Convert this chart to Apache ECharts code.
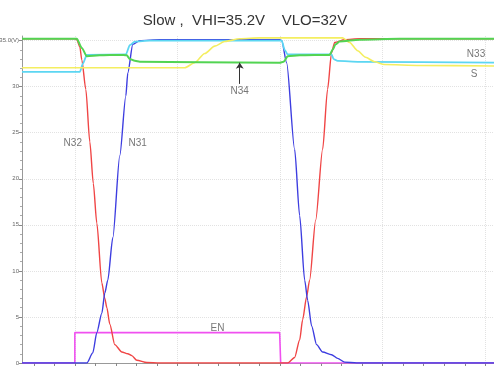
<!DOCTYPE html>
<html><head><meta charset="utf-8">
<script src="https://cdn.jsdelivr.net/npm/echarts@6/dist/echarts.min.js"></script>
<style>html,body{margin:0;padding:0;background:#fff}#c{width:494px;height:371px}</style>
</head><body><div id="c"></div>
<script>
// time axis (arbitrary units, major grid every 10), voltage in V
const xMajorTicks = [10, 20, 30, 40, 50];
const xMinorTicks = [6, 8, 12, 14, 16, 18, 22, 24, 26, 28, 32, 34, 36, 38, 42, 44, 46, 48];
const yTicks = [0, 5, 10, 15, 20, 25, 30, 35];

const enData = [[4.85,0],[10.0,0],[10.0,3.3],[29.96,3.3],[30.06,0],[50.85,0]];
const n32Data = [[4.85,35.2],[10.0,35.2],[10.19,35.1],[10.49,34.3],[10.68,32.9],[11.07,29.7],[11.46,24.0],[11.8,19.5],[12.14,15.2],[12.63,8.7],[12.92,7.0],[13.12,6.0],[13.41,4.2],[13.89,2.0],[14.58,1.2],[15.16,1.0],[15.55,0.8],[16.04,0.3],[17.01,0.05],[18.28,0],[30.74,0],[31.42,0.6],[31.91,2.5],[32.20,4.7],[32.59,7.2],[32.88,9.0],[33.47,15.5],[34.15,23.2],[34.63,29.7],[35.02,33.7],[35.32,34.8],[36.29,35.1],[37.75,35.2],[50.85,35.2]];
const n31Data = [[4.85,0],[11.17,0],[11.75,1.1],[12.14,3.3],[12.63,5.4],[12.92,7.6],[13.21,9.0],[13.70,13.6],[14.38,22.5],[14.97,29.0],[15.16,31.5],[15.65,34.6],[16.33,35.0],[18.28,35.1],[29.96,35.1],[30.16,35.0],[30.64,32.6],[31.42,23.2],[31.91,16.0],[32.40,9.0],[32.69,6.8],[33.08,4.0],[33.56,2.0],[34.15,1.2],[35.02,0.9],[35.61,0.5],[36.29,0.1],[37.46,0],[50.85,0]];
const sData = [[4.85,32.05],[20.71,32.05],[21.68,32.6],[22.66,33.6],[23.63,34.4],[24.61,34.9],[26.07,35.2],[28.01,35.3],[36.10,35.3],[36.78,34.8],[37.56,33.9],[38.33,33.2],[39.21,32.7],[40.18,32.4],[43.59,32.3],[50.85,32.25]];
const n33Data = [[4.85,31.6],[10.49,31.6],[10.78,32.5],[11.17,33.45],[14.97,33.5],[15.36,34.5],[15.84,34.9],[17.30,35.0],[30.16,35.0],[30.45,34.0],[30.74,33.5],[35.02,33.5],[35.22,33.0],[35.61,32.8],[37.75,32.7],[50.85,32.6]];
const n34Data = [[4.85,35.2],[10.19,35.2],[10.68,34.2],[11.17,33.3],[12.43,33.4],[14.38,33.45],[15.06,33.4],[15.36,33.0],[15.84,32.8],[16.33,32.7],[22.17,32.65],[29.96,32.6],[30.35,32.7],[30.74,33.3],[31.91,33.4],[34.83,33.45],[35.12,34.0],[35.41,34.6],[35.80,34.9],[37.75,35.1],[41.65,35.2],[50.85,35.2]];

const labelNames = ['N32', 'N31', 'N34', 'EN', 'N33', 'S'];
const labelX = [9.8, 16.13, 26.07, 23.9, 49.1, 48.9];
const labelY = [23.9, 23.9, 29.5, 3.8, 33.5, 31.4];
const arrowX = 26.07, arrowFrom = 30.3, arrowTo = 32.6;

const chart = echarts.init(document.getElementById('c'), null, {renderer: 'canvas'});
const lineBase = {type: 'line', showSymbol: false, symbol: 'none', animation: false, smooth: 0.25, smoothMonotone: 'x'};
chart.setOption({
  backgroundColor: '#fff',
  animation: false,
  title: {
    text: 'Slow ,  VHI=35.2V    VLO=32V',
    left: 240, textAlign: 'center', top: 8,
    textStyle: {fontSize: 15, fontWeight: 'normal', color: '#333', fontFamily: 'Liberation Sans, Arial, sans-serif'}
  },
  grid: {left: 22, right: 0, top: 36, bottom: 8, containLabel: false, outerBoundsMode: 'none'},
  xAxis: [{
    type: 'value', min: 4.85, max: 50.85,
    axisLine: {show: true, lineStyle: {color: '#999', width: 1}},
    axisTick: {show: true, customValues: xMajorTicks, length: 3, lineStyle: {color: '#888'}},
    axisLabel: {show: false},
    splitLine: {show: true, lineStyle: {color: '#e2e2e2', type: 'dotted', width: 1}}
  }, {
    type: 'value', min: 4.85, max: 50.85, position: 'bottom',
    axisLine: {show: false},
    axisTick: {show: true, customValues: xMinorTicks, length: 3, lineStyle: {color: '#888'}},
    axisLabel: {show: false},
    splitLine: {show: false}
  }],
  yAxis: {
    type: 'value', min: 0, max: 35.5, interval: 5,
    axisLine: {show: true, lineStyle: {color: '#999', width: 1}},
    axisTick: {show: true, customValues: yTicks, length: 3, lineStyle: {color: '#888'}},
    minorTick: {show: true, splitNumber: 5, length: 2, lineStyle: {color: '#aaa'}},
    axisLabel: {customValues: yTicks, fontSize: 6, color: '#666', margin: 3,
      formatter: v => v === 35 ? '35.0(V)' : String(v)},
    splitLine: {show: true, lineStyle: {color: '#e2e2e2', type: 'dotted', width: 1}}
  },
  series: [
    Object.assign({}, lineBase, {name: 'EN', data: enData, smooth: false, lineStyle: {color: '#f050f0', width: 1.6}}),
    Object.assign({}, lineBase, {name: 'N32', data: n32Data, lineStyle: {color: '#f04545', width: 1.4}}),
    Object.assign({}, lineBase, {name: 'N31', data: n31Data, lineStyle: {color: '#3d3de0', width: 1.4}}),
    Object.assign({}, lineBase, {name: 'N33', data: n33Data, lineStyle: {color: '#5cd6f2', width: 1.8}}),
    Object.assign({}, lineBase, {name: 'S', data: sData, lineStyle: {color: '#f4ee60', width: 1.6}}),
    Object.assign({}, lineBase, {name: 'N34', data: n34Data, lineStyle: {color: '#52d452', width: 2},
      markLine: {silent: true, symbol: ['none', 'arrow'], symbolSize: 6, label: {show: false},
        lineStyle: {color: '#333', width: 1, type: 'solid'},
        data: [[{coord: [arrowX, arrowFrom]}, {coord: [arrowX, arrowTo]}]]}}),
    {
      type: 'scatter', name: 'labels', symbolSize: 0, animation: false, silent: true,
      data: labelNames.map((n, i) => ({value: [labelX[i], labelY[i]], name: n})),
      label: {show: true, position: 'inside', formatter: p => p.name, fontSize: 10, color: '#555',
        fontFamily: 'Liberation Sans, Arial, sans-serif'}
    }
  ]
});
</script></body></html>
